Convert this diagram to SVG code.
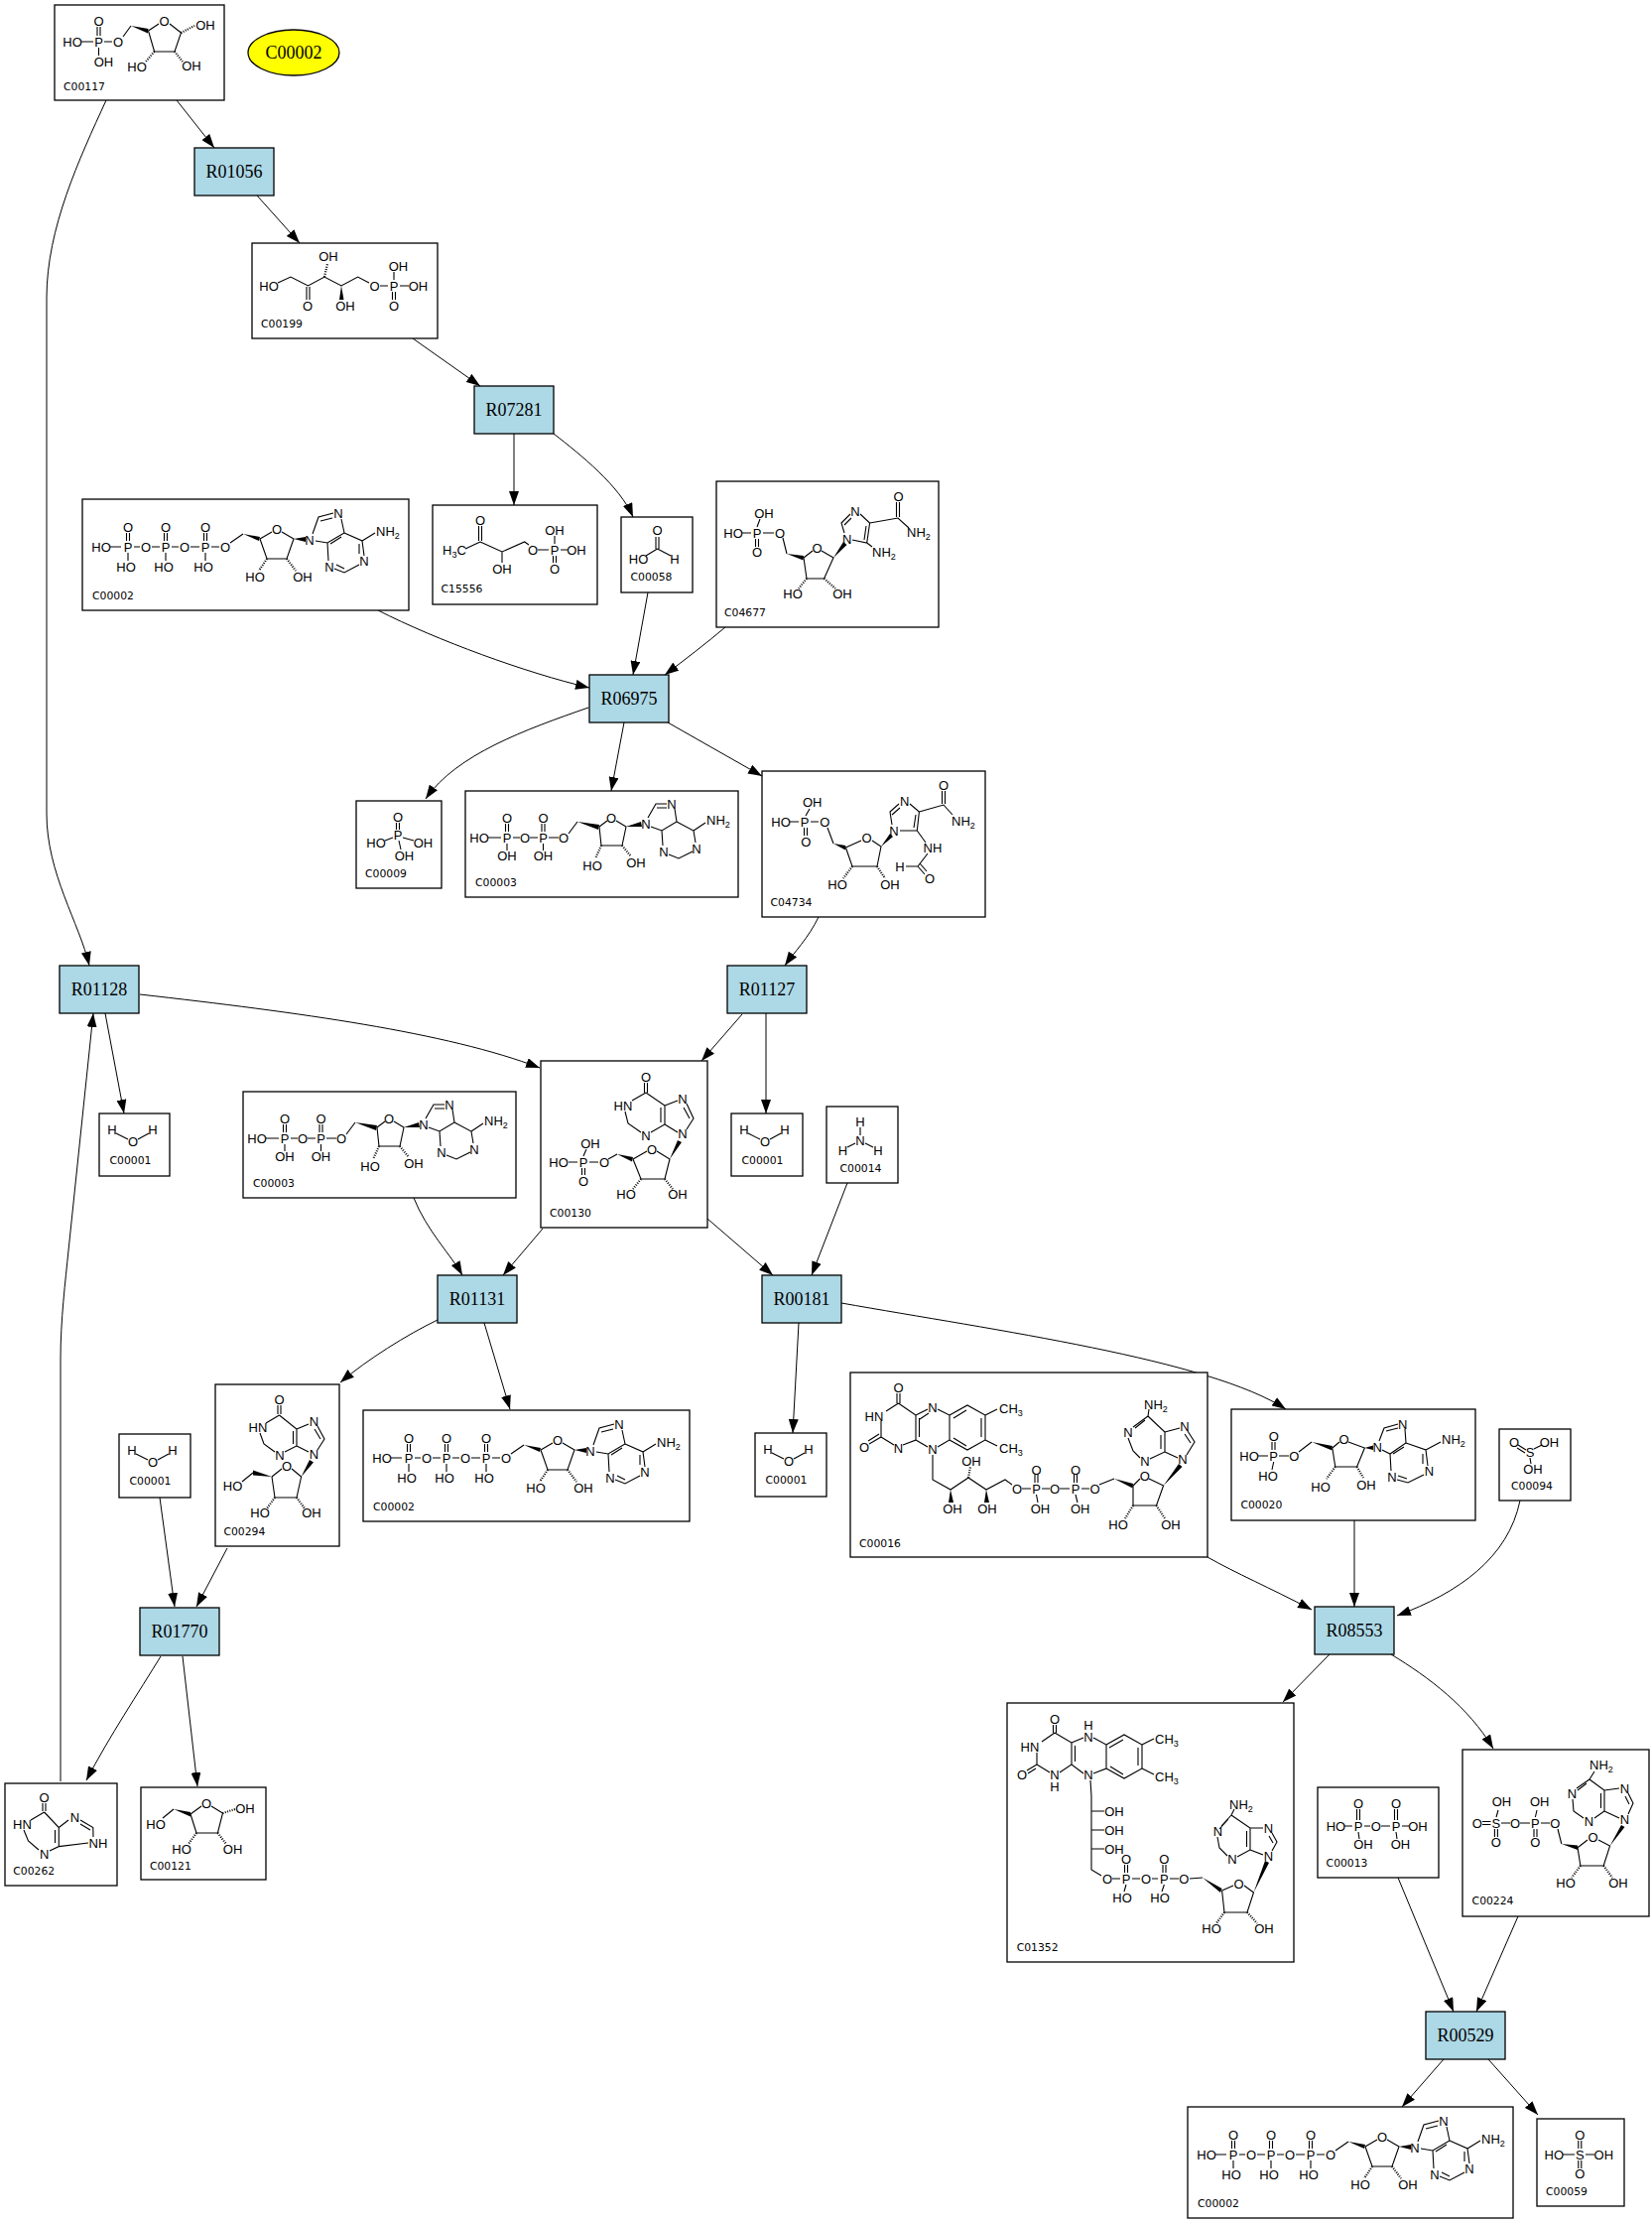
<svg xmlns="http://www.w3.org/2000/svg" xmlns:xlink="http://www.w3.org/1999/xlink" width="1665" height="2240" viewBox="0 0 1665 2240">
<style>
.r{fill:#add8e6;stroke:#000;stroke-width:1.3}
.c{fill:#fff;stroke:#000;stroke-width:1.3}
.rt{font-family:"Liberation Serif","Times New Roman",serif;font-size:18px;text-anchor:middle;fill:#000}
.id{font-family:"DejaVu Sans",sans-serif;font-size:10.8px;fill:#000}
.a{font-family:"Liberation Sans",Arial,sans-serif;font-size:13px;text-anchor:middle;fill:#000}
.s{font-family:"Liberation Sans",Arial,sans-serif;font-size:13px;fill:#000}
.b{stroke:#000;stroke-width:1.1;fill:none}
.h{stroke:#000;stroke-width:2.2;stroke-dasharray:1 1.4;fill:none}
.w{fill:#000}
.e{stroke:#000;stroke-width:1;fill:none;marker-end:url(#ah)}
</style>
<defs>
<marker id="ah" viewBox="0 0 14 10" refX="14" refY="5" markerWidth="14" markerHeight="10" markerUnits="userSpaceOnUse" orient="auto"><path d="M0,0L14,5L0,10Z" fill="#000"/></marker>
<g id="atpB">
<path class="b" d="M28,48H39 M52,48H58 M70,48H78 M90,48H97 M109,48H118 M130,48H138 M44.5,34V42 M47.5,34V42 M82.5,34V42 M85.5,34V42 M122.5,34V42 M125.5,34V42 M46,54V62 M84,54V62 M124,54V62 M149,44L162,35 M179,40L191,33 M201,33L213,40 L206,60 H186 L179,40 M232,35L238,18 L253,14 M240,22L252,19 M261,20L264,34 L247,44 L235,42 M261,38L250,45 M247,44L248,62 M254,70L264,74 L279,66 M256,66L264,70 M284,57L282,42 L264,34 M279,55L279,45 M282,42L295,34"/>
<path class="w" d="M162,35L179,38L178,42Z M213,40L225,38L225,43Z"/>
<path class="h" d="M186,60L178,72 M206,60L215,72"/>
</g>
<g id="adpB">
<path class="b" d="M23,47H36 M48,47H55 M65,47H73 M84,47H94 M40.5,33V41 M43.5,33V41 M77,33V41 M80,33V41 M42,53V60 M78.5,53V60 M104,43L113,31 M135,36L143,30 M152,30L162,36 L158,55 H137 L135,36 M184,27L192,13 L203,13 M193,17L203,17 M211,18L213,31 L198,40 L187,36 M198,40L199,55 M205,64L215,68 L229,61 M232,52L230,40 L213,31 M230,40L242,32"/>
<path class="w" d="M113,31L135,34L134,39Z M162,36L177,31L178,36Z"/>
<path class="h" d="M137,55L131,68 M158,55L167,66"/>
</g>
<path id="h2oB" class="b" d="M17,20L29,26 M39,26L50,20"/>
</defs>

<g id="connectors">
<path class="e" d="M178,101L216,149"/>
<path class="e" d="M259,197L302,245"/>
<path class="e" d="M416,341L484,389"/>
<path class="e" d="M518,437L518,509"/>
<path class="e" d="M558,437C585,458 625,490 638,521"/>
<path class="e" d="M381,615C440,645 530,678 594,693"/>
<path class="e" d="M653,597L638,680"/>
<path class="e" d="M731,632C712,648 690,665 670,680"/>
<path class="e" d="M593,713C530,735 460,760 429,805"/>
<path class="e" d="M629,728L616,797"/>
<path class="e" d="M673,728L768,782"/>
<path class="e" d="M825,924C815,945 800,960 791,973"/>
<path class="e" d="M107,101C80,160 47,230 47,300L47,820C47,880 80,930 90,973"/>
<path class="e" d="M106,1021L125,1122"/>
<path class="e" d="M141,1002C300,1020 450,1040 544,1076"/>
<path class="e" d="M748,1022L707,1069"/>
<path class="e" d="M772,1021L772,1122"/>
<path class="e" d="M417,1207C430,1240 455,1265 466,1285"/>
<path class="e" d="M547,1238L507,1285"/>
<path class="e" d="M713,1228L779,1285"/>
<path class="e" d="M854,1192L818,1285"/>
<path class="e" d="M805,1333L799,1444"/>
<path class="e" d="M848,1313C1000,1340 1220,1370 1296,1420"/>
<path class="e" d="M441,1330C410,1345 370,1370 343,1393"/>
<path class="e" d="M488,1333L514,1420"/>
<path class="e" d="M161,1509L176,1619"/>
<path class="e" d="M229,1560L198,1619"/>
<path class="e" d="M162,1669C140,1705 110,1750 87,1794"/>
<path class="e" d="M184,1669L199,1800"/>
<path class="e" d="M61,1795L61,1370C61,1330 66,1290 69,1260L94,1021"/>
<path class="e" d="M1217,1569C1245,1585 1280,1600 1322,1622"/>
<path class="e" d="M1365,1532L1365,1619"/>
<path class="e" d="M1532,1512C1520,1570 1470,1605 1408,1628"/>
<path class="e" d="M1340,1667L1293,1715"/>
<path class="e" d="M1402,1667C1440,1690 1480,1720 1505,1762"/>
<path class="e" d="M1409,1892L1465,2027"/>
<path class="e" d="M1530,1931L1488,2027"/>
<path class="e" d="M1455,2075L1413,2123"/>
<path class="e" d="M1500,2075L1550,2131"/>
</g>

<g id="C00002-ellipse"><ellipse cx="296" cy="53" rx="46" ry="23" fill="#ffff00" stroke="#000" stroke-width="1.3"/><text class="rt" x="296" y="59">C00002</text></g>

<g id="R01056"><rect class="r" x="196" y="149" width="80" height="48"/><text class="rt" x="236" y="179">R01056</text></g>
<g id="R07281"><rect class="r" x="478" y="389" width="80" height="48"/><text class="rt" x="518" y="419">R07281</text></g>
<g id="R06975"><rect class="r" x="594" y="680" width="80" height="48"/><text class="rt" x="634" y="710">R06975</text></g>
<g id="R01128"><rect class="r" x="60" y="973" width="80" height="48"/><text class="rt" x="100" y="1003">R01128</text></g>
<g id="R01127"><rect class="r" x="733" y="973" width="80" height="48"/><text class="rt" x="773" y="1003">R01127</text></g>
<g id="R01131"><rect class="r" x="441" y="1285" width="80" height="48"/><text class="rt" x="481" y="1315">R01131</text></g>
<g id="R00181"><rect class="r" x="768" y="1285" width="80" height="48"/><text class="rt" x="808" y="1315">R00181</text></g>
<g id="R01770"><rect class="r" x="141" y="1620" width="80" height="48"/><text class="rt" x="181" y="1650">R01770</text></g>
<g id="R08553"><rect class="r" x="1325" y="1619" width="80" height="48"/><text class="rt" x="1365" y="1649">R08553</text></g>
<g id="R00529"><rect class="r" x="1437" y="2027" width="80" height="48"/><text class="rt" x="1477" y="2057">R00529</text></g>

<g id="C00117" transform="translate(55,5)"><rect class="c" width="171" height="96"/>
<path class="b" d="M43,22V31 M46,22V31 M27,37H39 M50,37H58 M44.5,43V51 M69,32L77,21 M94.5,26L105,19 M116,19L127.5,28 L121,47 H100.6 L94.5,26"/>
<path class="w" d="M77,21L94.5,24L94,28.5Z"/>
<path class="h" d="M127.5,28L141,21 M100.6,47L92,57 M121,47L129,57"/>
<text class="a" x="44.5" y="21">O</text><text class="a" x="18" y="42">HO</text><text class="a" x="44.5" y="42">P</text><text class="a" x="64" y="42">O</text><text class="a" x="49.5" y="62">OH</text><text class="a" x="110.6" y="21">O</text><text class="a" x="152" y="25">OH</text><text class="a" x="83" y="67">HO</text><text class="a" x="138" y="66">OH</text>
<text class="id" x="9" y="86">C00117</text></g>

<g id="C00199" transform="translate(254,245)"><rect class="c" width="187" height="96"/>
<path class="b" d="M26,40L39,34 L56.5,43 L73,34 L90,43 L106.6,34 L118,40 M55,44V57 M58,44V57 M129,43H137 M143,37V29 M149,43H158 M141.5,49V57 M144.5,49V57"/>
<path class="h" d="M73,34L76,21"/>
<path class="w" d="M90,43L88,57L92.5,57Z"/>
<text class="a" x="17" y="48">HO</text><text class="a" x="56" y="68">O</text><text class="a" x="77" y="18">OH</text><text class="a" x="94" y="68">OH</text><text class="a" x="123.5" y="48">O</text><text class="a" x="143" y="48">P</text><text class="a" x="147.5" y="28">OH</text><text class="a" x="167.5" y="48">OH</text><text class="a" x="143" y="68">O</text>
<text class="id" x="9" y="85">C00199</text></g>

<g id="C00002-a" transform="translate(83,503)"><rect class="c" width="329" height="112"/><use xlink:href="#atpB" href="#atpB"/>
<text class="a" x="19" y="53">HO</text><text class="a" x="46" y="53">P</text><text class="a" x="46" y="33">O</text><text class="a" x="44" y="73">HO</text><text class="a" x="64" y="53">O</text><text class="a" x="84" y="53">P</text><text class="a" x="84" y="33">O</text><text class="a" x="82" y="73">HO</text><text class="a" x="103" y="53">O</text><text class="a" x="124" y="53">P</text><text class="a" x="124" y="33">O</text><text class="a" x="122" y="73">HO</text><text class="a" x="144" y="53">O</text><text class="a" x="196" y="35">O</text><text class="a" x="174" y="83">HO</text><text class="a" x="222" y="83">OH</text><text class="a" x="229" y="46">N</text><text class="a" x="258" y="19">N</text><text class="a" x="284" y="67">N</text><text class="a" x="249" y="73">N</text><text class="s" x="296" y="37">NH<tspan font-size="9" dy="3">2</tspan></text>
<text class="id" x="10" y="101">C00002</text></g>

<g id="C15556" transform="translate(436,509)"><rect class="c" width="166" height="100"/>
<path class="b" d="M46.5,21V36 M49.5,21V36 M48,37L33,44 M48,37L70,47 L92.7,37 L97,40 M70,47V58 M106,45H117 M123,39V31 M129,45H136 M121.5,51V58 M124.5,51V58"/>
<text class="a" x="48" y="20">O</text><text class="s" x="10" y="50">H<tspan font-size="9" dy="3">3</tspan><tspan dy="-3">C</tspan></text><text class="a" x="70" y="69">OH</text><text class="a" x="101" y="50">O</text><text class="a" x="123" y="50">P</text><text class="a" x="123" y="30">OH</text><text class="a" x="145" y="50">OH</text><text class="a" x="123" y="69">O</text>
<text class="id" x="8.5" y="88">C15556</text></g>

<g id="C00058" transform="translate(626,521)"><rect class="c" width="72" height="76"/>
<path class="b" d="M35,20V32 M38,20V32 M36.5,32L25,39 M36.5,32L50,39"/>
<text class="a" x="36.6" y="18">O</text><text class="a" x="17.6" y="47">HO</text><text class="a" x="54" y="47">H</text>
<text class="id" x="9.5" y="64">C00058</text></g>

<g id="C04677" transform="translate(722,485)"><rect class="c" width="224" height="147"/>
<path class="b" d="M41,46L44,38 M26,52H35 M47,52H58 M39.5,58V66 M42.5,58V66 M67,57L71,73 M88,77L97,70 M106,70L118,77 L108.6,98 H91 L88,77 M129,52L126,42 L135,33 M129,44L136,37 M145,33L154.6,42 L151.7,62 L137,59 M151,45L149,59 M154.6,42L183,37 L194,47 M181.5,21V36 M184.5,21V36 M151.7,62L157,66"/>
<path class="w" d="M71,73L88,75L87.5,79.5Z M118,77L128,61L131.5,64Z"/>
<path class="h" d="M91,98L83,108 M108.6,98L120,108"/>
<text class="a" x="48" y="37">OH</text><text class="a" x="17" y="57">HO</text><text class="a" x="41" y="57">P</text><text class="a" x="64" y="57">O</text><text class="a" x="41" y="76">O</text><text class="a" x="101.6" y="72">O</text><text class="a" x="77" y="118">HO</text><text class="a" x="127" y="118">OH</text><text class="a" x="131.6" y="63">N</text><text class="a" x="140" y="35">N</text><text class="a" x="183.5" y="20">O</text><text class="s" x="192" y="56">NH<tspan font-size="9" dy="3">2</tspan></text><text class="s" x="157" y="76">NH<tspan font-size="9" dy="3">2</tspan></text>
<text class="id" x="8" y="136">C04677</text></g>

<g id="C00009" transform="translate(359,807)"><rect class="c" width="86" height="88"/>
<path class="b" d="M40.5,22V29 M43.5,22V29 M37,37L29,40 M47,37L58,40 M43,40L45,49"/>
<text class="a" x="42" y="21">O</text><text class="a" x="42" y="39">P</text><text class="a" x="20" y="47">HO</text><text class="a" x="67.5" y="47">OH</text><text class="a" x="48.5" y="60">OH</text>
<text class="id" x="9" y="77">C00009</text></g>

<g id="C00003-a" transform="translate(469,797)"><rect class="c" width="275" height="107"/><use xlink:href="#adpB" href="#adpB"/>
<text class="a" x="14" y="52">HO</text><text class="a" x="42" y="52">P</text><text class="a" x="42" y="32">O</text><text class="a" x="42" y="70">OH</text><text class="a" x="60" y="52">O</text><text class="a" x="78.5" y="52">P</text><text class="a" x="78.5" y="32">O</text><text class="a" x="78.5" y="70">OH</text><text class="a" x="99" y="52">O</text><text class="a" x="147" y="32">O</text><text class="a" x="128" y="80">HO</text><text class="a" x="172" y="77">OH</text><text class="a" x="182" y="38">N</text><text class="a" x="208" y="18">N</text><text class="a" x="200" y="66">N</text><text class="a" x="233" y="63">N</text><text class="s" x="243" y="34">NH<tspan font-size="9" dy="3">2</tspan></text>
<text class="id" x="10" y="96">C00003</text></g>

<g id="C04734" transform="translate(768,777)"><rect class="c" width="225" height="147"/>
<path class="b" d="M44,45L48,38 M28,51H37 M49,51H57 M42.5,57V65 M45.5,57V65 M66,57L72,73 M84.4,77L100,70 M111,70L120,76 L116,96 H91 L84.4,77 M131,54L129,41 L138,33 M131,44L139,37 M149,33L158.4,41 L156.3,60 L139,60 M155,44L153,57 M158.4,41L183,34 L192,44 M181.5,20V33 M184.5,20V33 M156.3,60L165,72 M167,83L157,96 L145,96 M157,96L164,104 M159,93L166,101"/>
<path class="w" d="M72,73L84.4,75L84,79.5Z M120,76L129,63L132,66Z"/>
<path class="h" d="M91,96L82,108 M116,96L124,108"/>
<text class="a" x="50.7" y="36">OH</text><text class="a" x="19" y="56">HO</text><text class="a" x="43" y="56">P</text><text class="a" x="63.3" y="56">O</text><text class="a" x="44.4" y="76">O</text><text class="a" x="105.5" y="72">O</text><text class="a" x="76" y="119">HO</text><text class="a" x="129" y="119">OH</text><text class="a" x="133" y="65">N</text><text class="a" x="143.6" y="35">N</text><text class="a" x="183" y="19">O</text><text class="s" x="191" y="55">NH<tspan font-size="9" dy="3">2</tspan></text><text class="a" x="172" y="82">NH</text><text class="a" x="139" y="101">H</text><text class="a" x="169" y="113">O</text>
<text class="id" x="8.5" y="136">C04734</text></g>

<g id="C00001-a" transform="translate(100,1122)"><rect class="c" width="71" height="63"/><use xlink:href="#h2oB" href="#h2oB"/>
<text class="a" x="13" y="21">H</text><text class="a" x="34" y="33">O</text><text class="a" x="54" y="21">H</text><text class="id" x="10.5" y="51">C00001</text></g>

<g id="C00003-b" transform="translate(245,1100)"><rect class="c" width="275" height="107"/><use xlink:href="#adpB" href="#adpB"/>
<text class="a" x="14" y="52">HO</text><text class="a" x="42" y="52">P</text><text class="a" x="42" y="32">O</text><text class="a" x="42" y="70">OH</text><text class="a" x="60" y="52">O</text><text class="a" x="78.5" y="52">P</text><text class="a" x="78.5" y="32">O</text><text class="a" x="78.5" y="70">OH</text><text class="a" x="99" y="52">O</text><text class="a" x="147" y="32">O</text><text class="a" x="128" y="80">HO</text><text class="a" x="172" y="77">OH</text><text class="a" x="182" y="38">N</text><text class="a" x="208" y="18">N</text><text class="a" x="200" y="66">N</text><text class="a" x="233" y="63">N</text><text class="s" x="243" y="34">NH<tspan font-size="9" dy="3">2</tspan></text>
<text class="id" x="10" y="96">C00003</text></g>

<g id="C00130" transform="translate(545,1069)"><rect class="c" width="168" height="168"/>
<path class="b" d="M104.5,22V32 M107.5,22V32 M106,32L92,40 M85,51L88,63 L101,72 M111,72L125,64 L125,45 L106,32 M121,62V47 M125,45L138,40 M147,43L154,58 L147,69 M144,47L150,58 M138,72L125,64 M93,99L107,91 M117,91L130,99 L125,119 H101 L93,99 M77,94L68,99 M58,102H49 M37,102H28 M43,96L46,89 M41.5,108V115 M44.5,108V115"/>
<path class="w" d="M130,99L138,80L142,82Z M77,94L93,97L92,101.5Z"/>
<path class="h" d="M101,119L93,129 M125,119L133,129"/>
<text class="a" x="106" y="21">O</text><text class="a" x="83" y="50">HN</text><text class="a" x="106" y="80">N</text><text class="a" x="143" y="43">N</text><text class="a" x="143" y="78">N</text><text class="a" x="112" y="94">O</text><text class="a" x="86" y="139">HO</text><text class="a" x="138" y="139">OH</text><text class="a" x="50" y="88">OH</text><text class="a" x="18" y="107">HO</text><text class="a" x="43" y="107">P</text><text class="a" x="64" y="107">O</text><text class="a" x="43" y="126">O</text>
<text class="id" x="9" y="157">C00130</text></g>

<g id="C00001-b" transform="translate(737,1122)"><rect class="c" width="72" height="63"/><use xlink:href="#h2oB" href="#h2oB"/>
<text class="a" x="13" y="21">H</text><text class="a" x="34" y="33">O</text><text class="a" x="54" y="21">H</text><text class="id" x="10.5" y="51">C00001</text></g>

<g id="C00014" transform="translate(833,1115)"><rect class="c" width="72" height="77"/>
<path class="b" d="M34,21V29 M29,37L21,41 M39,37L47,41"/>
<text class="a" x="34" y="20">H</text><text class="a" x="34" y="39">N</text><text class="a" x="16.5" y="49">H</text><text class="a" x="52" y="49">H</text>
<text class="id" x="13.5" y="66">C00014</text></g>

<g id="C00294" transform="translate(217,1395)"><rect class="c" width="125" height="163"/>
<path class="b" d="M63,21V30 M66,21V30 M64.5,31L51,39 M45,49L49,60 L60,68 M70,68L82,62 L82,45 L64.5,31 M78.5,60V47 M82,45L94,40 M103,42L110,55 L103,66 M100,45L106,55 M94,68L82,62 M57,93L67,85 M77,85L86.6,93 L82,114 H60 L57,93 M38,89L27,98"/>
<path class="w" d="M86.6,93L95,76L99,78.5Z M57,93L38,86.5L38,91.5Z"/>
<path class="h" d="M60,114L52,125 M82,114L90,125"/>
<text class="a" x="64.5" y="20">O</text><text class="a" x="43" y="48">HN</text><text class="a" x="65" y="76">N</text><text class="a" x="99.5" y="42">N</text><text class="a" x="99.5" y="75">N</text><text class="a" x="72" y="87">O</text><text class="a" x="17.6" y="107">HO</text><text class="a" x="45" y="134">HO</text><text class="a" x="97" y="134">OH</text>
<text class="id" x="8.4" y="152">C00294</text></g>

<g id="C00002-c" transform="translate(366,1421)"><rect class="c" width="329" height="112"/><use xlink:href="#atpB" href="#atpB"/>
<text class="a" x="19" y="53">HO</text><text class="a" x="46" y="53">P</text><text class="a" x="46" y="33">O</text><text class="a" x="44" y="73">HO</text><text class="a" x="64" y="53">O</text><text class="a" x="84" y="53">P</text><text class="a" x="84" y="33">O</text><text class="a" x="82" y="73">HO</text><text class="a" x="103" y="53">O</text><text class="a" x="124" y="53">P</text><text class="a" x="124" y="33">O</text><text class="a" x="122" y="73">HO</text><text class="a" x="144" y="53">O</text><text class="a" x="196" y="35">O</text><text class="a" x="174" y="83">HO</text><text class="a" x="222" y="83">OH</text><text class="a" x="229" y="46">N</text><text class="a" x="258" y="19">N</text><text class="a" x="284" y="67">N</text><text class="a" x="249" y="73">N</text><text class="s" x="296" y="37">NH<tspan font-size="9" dy="3">2</tspan></text>
<text class="id" x="10" y="101">C00002</text></g>

<g id="C00001-c" transform="translate(120,1445)"><rect class="c" width="72" height="64"/><use xlink:href="#h2oB" href="#h2oB"/>
<text class="a" x="13" y="21">H</text><text class="a" x="34" y="33">O</text><text class="a" x="54" y="21">H</text><text class="id" x="10.5" y="51">C00001</text></g>

<g id="C00262" transform="translate(5,1797)"><rect class="c" width="113" height="103"/>
<path class="b" d="M38,20V28 M41,20V28 M39.6,29L26,37 M19,47L23.5,58 L34,67 M45,68L54.3,63.6 L54.3,44.5 L39.6,29 M50.5,47V60 M54.3,44.5L64,37 M76,37L88.8,44.5 L89,54 M76,41L86,47 M54.3,63.6L84,60"/>
<text class="a" x="39.6" y="19">O</text><text class="a" x="17.5" y="46">HN</text><text class="a" x="39.6" y="76">N</text><text class="a" x="70.4" y="39">N</text><text class="a" x="94" y="65">NH</text>
<text class="id" x="8.3" y="92">C00262</text></g>

<g id="C00121" transform="translate(142,1801)"><rect class="c" width="126" height="93"/>
<path class="b" d="M22,31L33,22 M50,27L61,19 M71,19L82.5,26 L77.4,46 H56 L50,27"/>
<path class="w" d="M33,22L50,25L50,29.5Z"/>
<path class="h" d="M82.5,26L95,22 M56,46L48,57 M77.4,46L86,57"/>
<text class="a" x="15" y="42">HO</text><text class="a" x="66" y="21">O</text><text class="a" x="105" y="26">OH</text><text class="a" x="41" y="67">HO</text><text class="a" x="92.6" y="67">OH</text>
<text class="id" x="8.9" y="83">C00121</text></g>

<g id="C00001-d" transform="translate(761,1444)"><rect class="c" width="72" height="64"/><use xlink:href="#h2oB" href="#h2oB"/>
<text class="a" x="13" y="21">H</text><text class="a" x="34" y="33">O</text><text class="a" x="54" y="21">H</text><text class="id" x="10.5" y="51">C00001</text></g>

<g id="C00016" transform="translate(857,1383)"><rect class="c" width="360" height="186"/>
<path class="b" d="M47,21V31 M50,21V31 M48.5,31L36,39 M31,49V65 M31,65L19,72 M29,62L18,69 M31,65L44,73 M53,73L66,68 L66,43 L48.5,31 M69.5,65V46 M66,43L78,37 M70,47L79,41 M88,37L100,43 L100,68 L88,75 M78,75L66,68 M100,43L118,33 L136,43 L136,68 L118,78 L100,68 M104,46L117,38 M132,46V65 M117,74L104,66 M136,43L148,37 M136,68L148,74 M83,83V108 L101,118 L119,106 L137,118 L156,108 L163,113 M173,117H182 M186,103V111 M189,103V111 M187.5,123L189,131 M193,117H201 M211,117H221 M225.5,103V111 M228.5,103V111 M227,123L229,131 M233,117H241 M251,113L266,107 M285,114L292,107 M301,107L315.6,114 L308.5,134 H285 L285,114 M300,44L301,37 M300,44L285,55 M297,48L287,56 M280,66L285,79 L292,86 M302,87L317,80 L317,60 L300,44 M313,77V63 M317,60L332,56 M340,59L347,70 L339,83 M337,62L343,71 M330,86L317,80"/>
<path class="w" d="M101,118L99,131L104,131Z M137,118L135,131L140,131Z M266,107L285,112L284.5,116.5Z M315.6,114L331,92L334.5,95Z"/>
<path class="h" d="M119,106L121,95 M285,134L277,147 M308.5,134L317,147"/>
<text class="a" x="48.5" y="20">O</text><text class="a" x="24" y="49">HN</text><text class="a" x="14" y="80">O</text><text class="a" x="48.5" y="81">N</text><text class="a" x="83" y="40">N</text><text class="a" x="83" y="82">N</text><text class="s" x="150" y="41">CH<tspan font-size="9" dy="3">3</tspan></text><text class="s" x="150" y="81">CH<tspan font-size="9" dy="3">3</tspan></text><text class="a" x="122" y="94">OH</text><text class="a" x="103" y="142">OH</text><text class="a" x="138" y="142">OH</text><text class="a" x="168" y="122">O</text><text class="a" x="187.5" y="122">P</text><text class="a" x="187.5" y="103">O</text><text class="a" x="191.5" y="142">OH</text><text class="a" x="206" y="122">O</text><text class="a" x="227" y="122">P</text><text class="a" x="227" y="103">O</text><text class="a" x="231.7" y="142">OH</text><text class="a" x="246.5" y="122">O</text><text class="a" x="296.7" y="109">O</text><text class="a" x="270" y="158">HO</text><text class="a" x="323" y="158">OH</text><text class="s" x="296" y="37">NH<tspan font-size="9" dy="3">2</tspan></text><text class="a" x="280" y="65">N</text><text class="a" x="297" y="94">N</text><text class="a" x="337" y="59">N</text><text class="a" x="335" y="92">N</text>
<text class="id" x="9" y="176">C00016</text></g>

<g id="C00020" transform="translate(1241,1420)"><rect class="c" width="246" height="112"/>
<path class="b" d="M41,33V41 M44,33V41 M27,47H37 M48,47H58 M42.7,53L41,61 M68,43L81,33 M101.8,39L109,33 M118,33L134.4,39 L126.6,58 H104.8 L101.8,39 M149,32L154,19 L168,15 M156,22L168,19 M175,20L176,34 L160,45 L152,41 M174,38L163,45 M160,45L161,62 M167,71L178,74 L194,66 M168,67L177,70 M198,57L196,41 L176,34 M193,55V45 M196,41L211,33"/>
<path class="w" d="M81,33L101.8,37L101.5,41.5Z M134.4,39L143,36.5L143,41Z"/>
<path class="h" d="M104.8,58L96,70 M126.6,58L133,69"/>
<text class="a" x="42.7" y="32">O</text><text class="a" x="18" y="52">HO</text><text class="a" x="42.7" y="52">P</text><text class="a" x="63.4" y="52">O</text><text class="a" x="37" y="72">HO</text><text class="a" x="113.6" y="35">O</text><text class="a" x="90" y="83">HO</text><text class="a" x="136" y="81">OH</text><text class="a" x="147.3" y="43">N</text><text class="a" x="172.8" y="20">N</text><text class="a" x="162" y="73">N</text><text class="a" x="199.4" y="67">N</text><text class="s" x="212" y="35">NH<tspan font-size="9" dy="3">2</tspan></text>
<text class="id" x="9.4" y="100">C00020</text></g>

<g id="C00094" transform="translate(1511,1440)"><rect class="c" width="72" height="72"/>
<path class="b" d="M19,16L27,21 M18,19L26,24 M35,20L43,16 M31,29L32,35"/>
<text class="a" x="15" y="18">O</text><text class="a" x="31" y="28">S</text><text class="a" x="50.5" y="18">OH</text><text class="a" x="34" y="45">OH</text>
<text class="id" x="12" y="61">C00094</text></g>

<g id="C01352" transform="translate(1015,1716)"><rect class="c" width="289" height="261"/>
<path class="b" d="M46.5,22V30 M49.5,22V30 M48,30L35,39 M30,50V62 M30,62L20,68 M29,66L21,71 M30,62L43,70 M53,70L65,62 L65,40 L48,30 M68.5,59V43 M65,40L77,35 M87,35L100,42 L100,66 L87,71 M77,71L65,62 M100,42L118,32 L136,42 L136,66 L118,76 L100,66 M103,45L117,37 M132,45V63 M117,72L104,64 M136,42L148,36 M136,66L148,72 M84,78L85,94 V168 L95,174 M85,109H98 M85,128H98 M85,147H98 M106,177H114 M118.5,163V171 M121.5,163V171 M120,183L118,190 M126,177H134 M146,177H152 M157,163V171 M160,163V171 M158.4,183L156,190 M164,177H173 M184,177L197,176 M216.6,189L228,184 M239,184L248.5,191 L242,211 H219 L216.6,189 M226,113L229,107 M226,113L216,124 M223,117L214,127 M212,135L214,146 L222,154 M232,155L245,148 L245,126 L226,113 M241.5,145V129 M245,126L258,126 M267,131L272,140 L267,149 M264,134L268,141 M258,153L245,148"/>
<path class="w" d="M197,176L216.6,187L215,191Z M248.5,191L260,159L264,161Z"/>
<path class="h" d="M219,211L211,222 M242,211L252,222"/>
<text class="a" x="48" y="21">O</text><text class="a" x="82" y="27">H</text><text class="a" x="82" y="39">N</text><text class="a" x="23" y="49">HN</text><text class="a" x="15" y="77">O</text><text class="a" x="48" y="77">N</text><text class="a" x="48" y="89">H</text><text class="a" x="82" y="77">N</text><text class="s" x="149" y="41">CH<tspan font-size="9" dy="3">3</tspan></text><text class="s" x="149" y="79">CH<tspan font-size="9" dy="3">3</tspan></text><text class="a" x="108" y="114">OH</text><text class="a" x="108" y="133">OH</text><text class="a" x="108" y="152">OH</text><text class="a" x="101" y="182">O</text><text class="a" x="120" y="182">P</text><text class="a" x="120" y="162">O</text><text class="a" x="116" y="201">HO</text><text class="a" x="140" y="182">O</text><text class="a" x="158.4" y="182">P</text><text class="a" x="158.4" y="162">O</text><text class="a" x="154" y="201">HO</text><text class="a" x="178.4" y="182">O</text><text class="a" x="233.6" y="187">O</text><text class="a" x="206" y="232">HO</text><text class="a" x="259" y="232">OH</text><text class="s" x="224" y="107">NH<tspan font-size="9" dy="3">2</tspan></text><text class="a" x="212.4" y="134">N</text><text class="a" x="227" y="162">N</text><text class="a" x="263.4" y="131">N</text><text class="a" x="263.4" y="159">N</text>
<text class="id" x="9.7" y="250">C01352</text></g>

<g id="C00013" transform="translate(1328,1801)"><rect class="c" width="122" height="91"/>
<path class="b" d="M39.5,22V33 M42.5,22V33 M77.5,22V33 M80.5,22V33 M27,39H35 M47,39H53 M64,39H73 M85,39H92 M41,45L42,52 M79,45L80,52"/>
<text class="a" x="41" y="21">O</text><text class="a" x="18.4" y="44">HO</text><text class="a" x="41" y="44">P</text><text class="a" x="46" y="62">OH</text><text class="a" x="58.7" y="44">O</text><text class="a" x="79" y="44">P</text><text class="a" x="79" y="21">O</text><text class="a" x="101" y="44">OH</text><text class="a" x="83.4" y="62">OH</text>
<text class="id" x="8.6" y="80">C00013</text></g>

<g id="C00224" transform="translate(1474,1763)"><rect class="c" width="188" height="168"/>
<path class="b" d="M34,68L36,61 M20,72.5H28.5 M20,75.5H28.5 M32.4,80V88 M35.4,80V88 M39,74H48 M58,74H68 M73.4,68L75,61 M72,80V88 M75,80V88 M79,74H88 M96,80L99.8,95 M116,98.7L126,91 M137,91L148.6,97 L142.2,117 H118.9 L116,98.7 M128,30L133,22 M128,30L115,39 M125,34L116,41 M111,50L112,62 L122,69 M133,69L143,62 L143,41 L128,30 M139.5,59V44 M143,41L158,39 M167,44L172,54 L167,65 M164,47L168,55 M158,69L143,62"/>
<path class="w" d="M99.8,95L116,96.5L116,101Z M148.6,97L160,76L163.5,78Z"/>
<path class="h" d="M118.9,117L110,129 M142.2,117L151,129"/>
<text class="a" x="39.4" y="57">OH</text><text class="a" x="14.7" y="79">O</text><text class="a" x="33.9" y="79">S</text><text class="a" x="33.9" y="98">O</text><text class="a" x="53" y="79">O</text><text class="a" x="73.4" y="79">P</text><text class="a" x="77.7" y="57">OH</text><text class="a" x="73.4" y="98">O</text><text class="a" x="93.4" y="79">O</text><text class="a" x="131.6" y="93">O</text><text class="a" x="104" y="139">HO</text><text class="a" x="157" y="139">OH</text><text class="s" x="128" y="20">NH<tspan font-size="9" dy="3">2</tspan></text><text class="a" x="110.4" y="49">N</text><text class="a" x="127.4" y="77">N</text><text class="a" x="163.5" y="44">N</text><text class="a" x="163.5" y="75">N</text>
<text class="id" x="9.6" y="156">C00224</text></g>

<g id="C00002-d" transform="translate(1197,2123)"><rect class="c" width="328" height="112"/><use xlink:href="#atpB" href="#atpB"/>
<text class="a" x="19" y="53">HO</text><text class="a" x="46" y="53">P</text><text class="a" x="46" y="33">O</text><text class="a" x="44" y="73">HO</text><text class="a" x="64" y="53">O</text><text class="a" x="84" y="53">P</text><text class="a" x="84" y="33">O</text><text class="a" x="82" y="73">HO</text><text class="a" x="103" y="53">O</text><text class="a" x="124" y="53">P</text><text class="a" x="124" y="33">O</text><text class="a" x="122" y="73">HO</text><text class="a" x="144" y="53">O</text><text class="a" x="196" y="35">O</text><text class="a" x="174" y="83">HO</text><text class="a" x="222" y="83">OH</text><text class="a" x="229" y="46">N</text><text class="a" x="258" y="19">N</text><text class="a" x="284" y="67">N</text><text class="a" x="249" y="73">N</text><text class="s" x="296" y="37">NH<tspan font-size="9" dy="3">2</tspan></text>
<text class="id" x="10" y="101">C00002</text></g>

<g id="C00059" transform="translate(1549,2135)"><rect class="c" width="88" height="88"/>
<path class="b" d="M41.8,22V30 M44.8,22V30 M41.8,42V50 M44.8,42V50 M26,36H38 M49,36H58"/>
<text class="a" x="43.3" y="21">O</text><text class="a" x="17.3" y="41">HO</text><text class="a" x="43.3" y="41">S</text><text class="a" x="67.3" y="41">OH</text><text class="a" x="43.3" y="60">O</text>
<text class="id" x="9" y="77">C00059</text></g>
</svg>
